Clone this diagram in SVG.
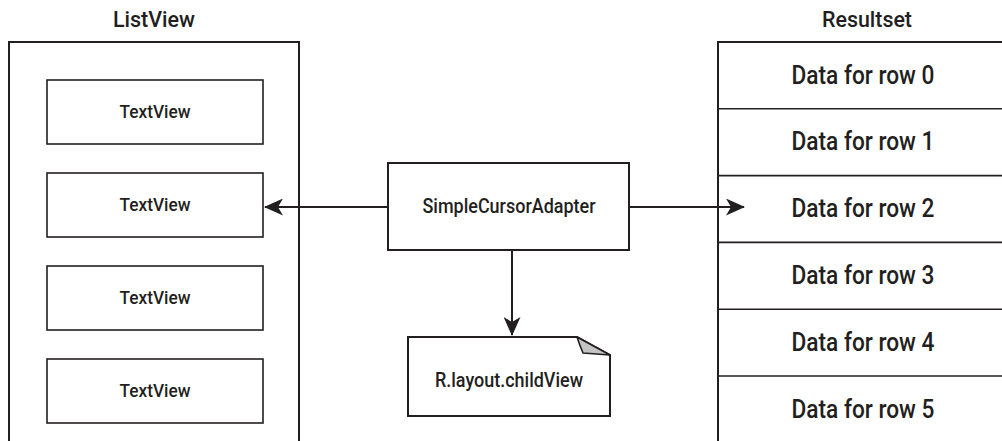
<svg xmlns="http://www.w3.org/2000/svg" width="1002" height="441" viewBox="0 0 1002 441">
<style>
text{font-family:Roboto,"Liberation Sans",Arial,sans-serif;font-weight:500;fill:#231f20;text-anchor:middle}
.box{fill:#fff;stroke:#231f20;stroke-width:2}
.inner{fill:#fff;stroke:#231f20;stroke-width:1.6}
.line{fill:none;stroke:#231f20;stroke-width:2}
.row{font-size:25px}
.tv{font-size:18px}
.title{font-size:22px}
</style>
<defs>
<marker id="arr" markerUnits="userSpaceOnUse" viewBox="0 0 19 17" markerWidth="19" markerHeight="17" refX="18" refY="8.5" orient="auto">
<path d="M0,0 L19,8.5 L0,17 L5,8.5 Z" fill="#231f20"/>
</marker>
</defs>
<rect width="1002" height="441" fill="#fff"/>
<g id="listview">
<path class="line" d="M9,441 V42 H299 V441"/>
<text class="title" x="154" y="27" textLength="82" lengthAdjust="spacingAndGlyphs">ListView</text>
<g id="textview1"><rect class="inner" x="47" y="80" width="216" height="64"/><text class="tv" x="155" y="118" textLength="71" lengthAdjust="spacingAndGlyphs">TextView</text></g>
<g id="textview2"><rect class="inner" x="47" y="173" width="216" height="64"/><text class="tv" x="155" y="211" textLength="71" lengthAdjust="spacingAndGlyphs">TextView</text></g>
<g id="textview3"><rect class="inner" x="47" y="266" width="216" height="64"/><text class="tv" x="155" y="304" textLength="71" lengthAdjust="spacingAndGlyphs">TextView</text></g>
<g id="textview4"><rect class="inner" x="47" y="359" width="216" height="64"/><text class="tv" x="155" y="397" textLength="71" lengthAdjust="spacingAndGlyphs">TextView</text></g>
</g>
<g id="resultset">
<path class="line" d="M718,441 V42 H1002"/>
<text class="title" x="867" y="27" textLength="90" lengthAdjust="spacingAndGlyphs">Resultset</text>
<g stroke="#231f20" stroke-width="1.6">
<line x1="718" y1="108.8" x2="1002" y2="108.8"/>
<line x1="718" y1="175.6" x2="1002" y2="175.6"/>
<line x1="718" y1="242.4" x2="1002" y2="242.4"/>
<line x1="718" y1="309.2" x2="1002" y2="309.2"/>
<line x1="718" y1="376" x2="1002" y2="376"/>
</g>
<g id="row0"><text class="row" x="863" y="83.5" textLength="143" lengthAdjust="spacingAndGlyphs">Data for row 0</text></g>
<g id="row1"><text class="row" x="863" y="150" textLength="143" lengthAdjust="spacingAndGlyphs">Data for row 1</text></g>
<g id="row2"><text class="row" x="863" y="217" textLength="143" lengthAdjust="spacingAndGlyphs">Data for row 2</text></g>
<g id="row3"><text class="row" x="863" y="284" textLength="143" lengthAdjust="spacingAndGlyphs">Data for row 3</text></g>
<g id="row4"><text class="row" x="863" y="351" textLength="143" lengthAdjust="spacingAndGlyphs">Data for row 4</text></g>
<g id="row5"><text class="row" x="863" y="417.5" textLength="143" lengthAdjust="spacingAndGlyphs">Data for row 5</text></g>
</g>
<g id="adapter">
<rect class="box" x="388" y="163" width="241" height="87"/>
<text x="509" y="213" font-size="20" textLength="173" lengthAdjust="spacingAndGlyphs">SimpleCursorAdapter</text>
</g>
<g id="childview">
<path class="box" d="M408,337 H577 L610,355 V416 H408 Z"/>
<path d="M577,337 Q580,346 583,353 L610,355 Z" fill="#c4c4c4" stroke="#231f20" stroke-width="1.6" stroke-linejoin="round"/>
<text x="509" y="387" font-size="20" textLength="148" lengthAdjust="spacingAndGlyphs">R.layout.childView</text>
</g>
<g id="connectors" class="line">
<line x1="388" y1="207" x2="265" y2="207" marker-end="url(#arr)"/>
<line x1="629" y1="207" x2="744" y2="207" marker-end="url(#arr)"/>
<line x1="512" y1="250" x2="512" y2="335" marker-end="url(#arr)"/>
</g>
</svg>
